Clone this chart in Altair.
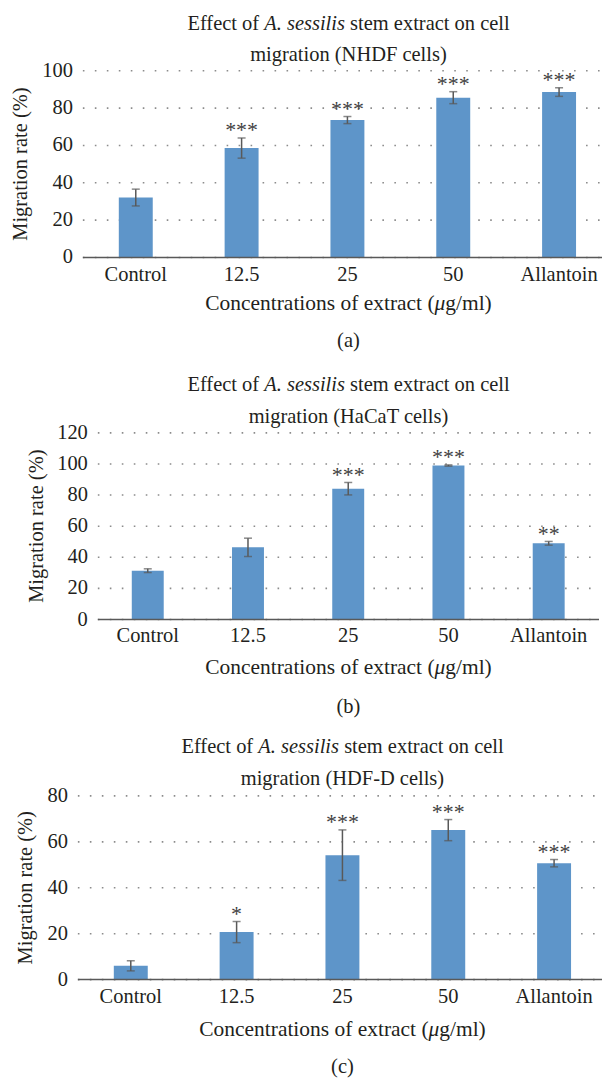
import altair as alt
import pandas as pd

# ---------------- data ----------------
categories = ["Control", "12.5", "25", "50", "Allantoin"]

nhdf_mean = [32.1, 58.6, 73.6, 85.6, 88.6]
nhdf_err = [4.5, 5.4, 1.9, 3.2, 2.3]
nhdf_stars = ["", "***", "***", "***", "***"]

hacat_mean = [31.4, 46.4, 84.1, 99.0, 49.0]
hacat_err = [1.2, 5.9, 4.0, 0.4, 1.2]
hacat_stars = ["", "", "***", "***", "**"]

hdfd_mean = [6.0, 20.7, 54.2, 65.1, 50.7]
hdfd_err = [2.2, 4.6, 11.0, 4.6, 1.6]
hdfd_stars = ["", "*", "***", "***", "***"]

ticks_a = [0, 20, 40, 60, 80, 100]
ticks_b = [0, 20, 40, 60, 80, 100, 120]
ticks_c = [0, 20, 40, 60, 80]

title_line1 = ["Effect of", "A. sessilis", "stem extract on cell"]
title_line2 = ["migration (NHDF cells)", "migration (HaCaT cells)", "migration (HDF-D cells)"]
y_title = "Migration rate (%)"
x_title = ["Concentrations of extract (", "\u03bc", "g/ml)"]
letters = ["(a)", "(b)", "(c)"]

# ---------------- style / layout ----------------
FONT = "Liberation Serif"
FS = 20.5
FS_X = 21.5
FS_STAR = 22
TXT = "#231F20"
BAR = "#5E95C9"
ERR = "#595959"
GRID = "#8C8C8C"

ORIGIN_X = 78          # common plot origin (figure px)
FRAME_W = 525          # common plot width
FRAME_TOP = 70         # common top extent
FRAME_H = 190          # common plot height
FRAME_TOTAL = 1078 / 3 # height of each panel frame


def one_row():
    return pd.DataFrame({"d": [0]})


def panel(idx, mean, err, stars, yticks, ymax, plot_l, plot_r, plot_t, plot_b,
          step, bw, first_bar, cx, t1, t2, lbl_base, xt_base, let_base, ytx, ylab_r):
    y0 = idx * FRAME_TOTAL

    def fx(x):
        return x - ORIGIN_X

    def fy(y):
        return y - (y0 + FRAME_TOP)

    df = pd.DataFrame({
        "cat": categories,
        "mean": mean,
        "lo": [m - e for m, e in zip(mean, err)],
        "hi": [m + e for m, e in zip(mean, err)],
        "stars": stars,
    })
    tdf = pd.DataFrame({"v": yticks})

    n = len(categories)
    pi = 1 - bw / step
    po = (FRAME_W / step - n + pi) / 2
    extra = FRAME_W - step * (n - pi)
    al = (first_bar - ORIGIN_X) / extra
    xs = alt.Scale(domain=categories, paddingInner=pi, paddingOuter=po, align=al)
    ys = alt.Scale(domain=[0, ymax], nice=False, zero=True,
                   range=[fy(plot_b), fy(plot_t)])

    X = alt.X("cat:N", scale=xs, sort=categories, axis=None)

    def Y(f):
        return alt.Y(f, scale=ys, axis=None)

    def txt(text, x, y, align="center", italic=False, angle=None, size=FS):
        kw = dict(font=FONT, fontSize=size, color=TXT, align=align, baseline="alphabetic")
        if italic:
            kw["fontStyle"] = "italic"
        if angle is not None:
            kw["angle"] = angle
        return alt.Chart(one_row()).mark_text(**kw).encode(
            x=alt.value(fx(x)), y=alt.value(fy(y)), text=alt.value(text))

    grid = alt.Chart(tdf).mark_rule(color=GRID, strokeWidth=1.6,
                                    strokeDash=[1.6, 10.4]).encode(
        x=alt.value(fx(plot_l)), x2=alt.value(fx(plot_r)), y=Y("v:Q"))
    ylabels = alt.Chart(tdf).mark_text(font=FONT, fontSize=FS, color=TXT,
                                       align="right", baseline="middle").encode(
        x=alt.value(fx(ylab_r)), y=Y("v:Q"), text=alt.Text("v:Q"))

    base = alt.Chart(df)
    bars = base.mark_bar(color=BAR).encode(x=X, y=Y("mean:Q"))
    domain = alt.Chart(pd.DataFrame({"v": [0]})).mark_rule(
        color=ERR, strokeWidth=1.5).encode(
        x=alt.value(fx(plot_l)), x2=alt.value(fx(plot_r)), y=Y("v:Q"))
    rules = base.mark_rule(color=ERR, strokeWidth=1.5).encode(
        x=X, y=Y("lo:Q"), y2="hi:Q")
    cap_hi = base.mark_tick(color=ERR, size=8, thickness=1.5).encode(x=X, y=Y("hi:Q"))
    cap_lo = base.mark_tick(color=ERR, size=8, thickness=1.5).encode(x=X, y=Y("lo:Q"))
    star = base.mark_text(font=FONT, fontSize=FS_STAR, color="#404040",
                          baseline="alphabetic", dy=-0.5).encode(
        x=X, y=Y("hi:Q"), text="stars:N")
    xlabels = base.mark_text(font=FONT, fontSize=FS, color=TXT,
                             baseline="alphabetic").encode(
        x=X, y=alt.value(fy(lbl_base)), text="cat:N")

    texts = [
        txt(title_line1[0], cx - 89.4, t1, align="right"),
        txt(title_line1[1], cx - 84.3, t1, align="left", italic=True),
        txt(title_line1[2], cx + 1.7, t1, align="left"),
        txt(title_line2[idx], cx, t2),
        txt(y_title, ytx, (plot_t + plot_b) / 2, angle=270),
        txt(x_title[0], cx + 86.3, xt_base, align="right", size=FS_X),
        txt(x_title[1], cx + 86.3, xt_base, align="left", italic=True, size=FS_X),
        txt(x_title[2], cx + 97.0, xt_base, align="left", size=FS_X),
        txt(letters[idx], cx, let_base),
    ]
    anchor = alt.Chart(one_row()).mark_rule(opacity=0).encode(
        x=alt.value(fx(0)), y=alt.value(fy(y0)), y2=alt.value(fy(y0 + FRAME_TOTAL)))

    return alt.layer(grid, bars, domain, rules, cap_hi, cap_lo, star, ylabels,
                     xlabels, *texts, anchor).properties(width=FRAME_W, height=FRAME_H)


pa = panel(0, nhdf_mean, nhdf_err, nhdf_stars, ticks_a, 100,
           plot_l=83, plot_r=603, plot_t=70, plot_b=257, step=106, bw=34, first_bar=119,
           cx=349, t1=29, t2=60, lbl_base=281, xt_base=310, let_base=347,
           ytx=27.5, ylab_r=73)
pb = panel(1, hacat_mean, hacat_err, hacat_stars, ticks_b, 120,
           plot_l=98, plot_r=600, plot_t=432, plot_b=619, step=100.4, bw=32, first_bar=132,
           cx=349, t1=390.5, t2=422, lbl_base=642, xt_base=674, let_base=713,
           ytx=43, ylab_r=88)
pc = panel(2, hdfd_mean, hdfd_err, hdfd_stars, ticks_c, 80,
           plot_l=78, plot_r=603, plot_t=795, plot_b=979, step=106, bw=34, first_bar=114,
           cx=343, t1=752, t2=784.5, lbl_base=1002, xt_base=1035, let_base=1073,
           ytx=32, ylab_r=68)

chart = alt.vconcat(pa, pb, pc, spacing=0).properties(
    padding=0, background="white"
).configure_view(stroke=None)

chart.save("out.html", embed_options={"renderer": "svg", "actions": False})
